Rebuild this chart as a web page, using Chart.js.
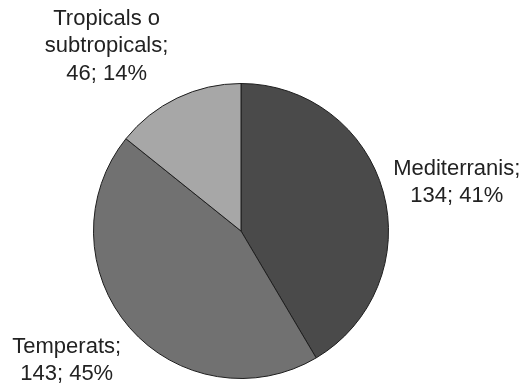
<!DOCTYPE html>
<html>
<head>
<meta charset="utf-8">
<script src="https://cdn.jsdelivr.net/npm/chart.js@4/dist/chart.umd.min.js"></script>
<style>
  html, body { margin: 0; padding: 0; background: #fff; }
  #wrap { width: 523px; height: 388px; position: relative; }
</style>
</head>
<body>
<div id="wrap"><canvas id="pieClimes"></canvas></div>
<script>
// data
var categories = ['Mediterranis', 'Temperats', 'Tropicals o subtropicals'];
var counts = [134, 143, 46];
var percents = ['41%', '45%', '14%'];
var labelLines = [
  ['Mediterranis;', '134; 41%'],
  ['Temperats;', '143; 45%'],
  ['Tropicals o', 'subtropicals;', '46; 14%']
];
var sliceColors = ['#4a4a4a', '#717171', '#a7a7a7'];

// label placement: angle (deg) from centre and distance in radii
var labelAngle = [-12.8, 143.5, 234];
var labelDist = [1.5, 1.47, 1.55];

var outsideLabels = {
  id: 'outsideLabels',
  afterDatasetsDraw: function(chart) {
    var ctx = chart.ctx;
    var arc = chart.getDatasetMeta(0).data[0];
    var cx = arc.x, cy = arc.y, r = arc.outerRadius;
    ctx.save();
    ctx.font = '22px Arial, "Liberation Sans", Arimo, sans-serif';
    ctx.fillStyle = '#222';
    ctx.textAlign = 'center';
    ctx.textBaseline = 'middle';
    var lh = 27.5;
    for (var i = 0; i < labelLines.length; i++) {
      var a = labelAngle[i] * Math.PI / 180;
      var x = cx + Math.cos(a) * r * labelDist[i];
      var y = cy + Math.sin(a) * r * labelDist[i];
      var lines = labelLines[i];
      var y0 = y - (lines.length - 1) * lh / 2;
      for (var j = 0; j < lines.length; j++) {
        ctx.save();
        ctx.translate(x, y0 + j * lh);
        ctx.scale(1, 1.04);
        ctx.fillText(lines[j], 0, 0);
        ctx.restore();
      }
    }
    ctx.restore();
  }
};

var ctx = document.getElementById('pieClimes');
var pie = new Chart(ctx, {
  type: 'pie',
  data: {
    labels: categories,
    datasets: [{
      data: counts,
      backgroundColor: sliceColors,
      borderColor: '#1e1e1e',
      borderWidth: 1
    }]
  },
  options: {
    responsive: true,
    maintainAspectRatio: false,
    animation: false,
    layout: { padding: { top: 83, bottom: 9, left: 93, right: 134 } },
    plugins: {
      legend: { display: false },
      tooltip: { enabled: false }
    }
  },
  plugins: [outsideLabels]
});
</script>
</body>
</html>
